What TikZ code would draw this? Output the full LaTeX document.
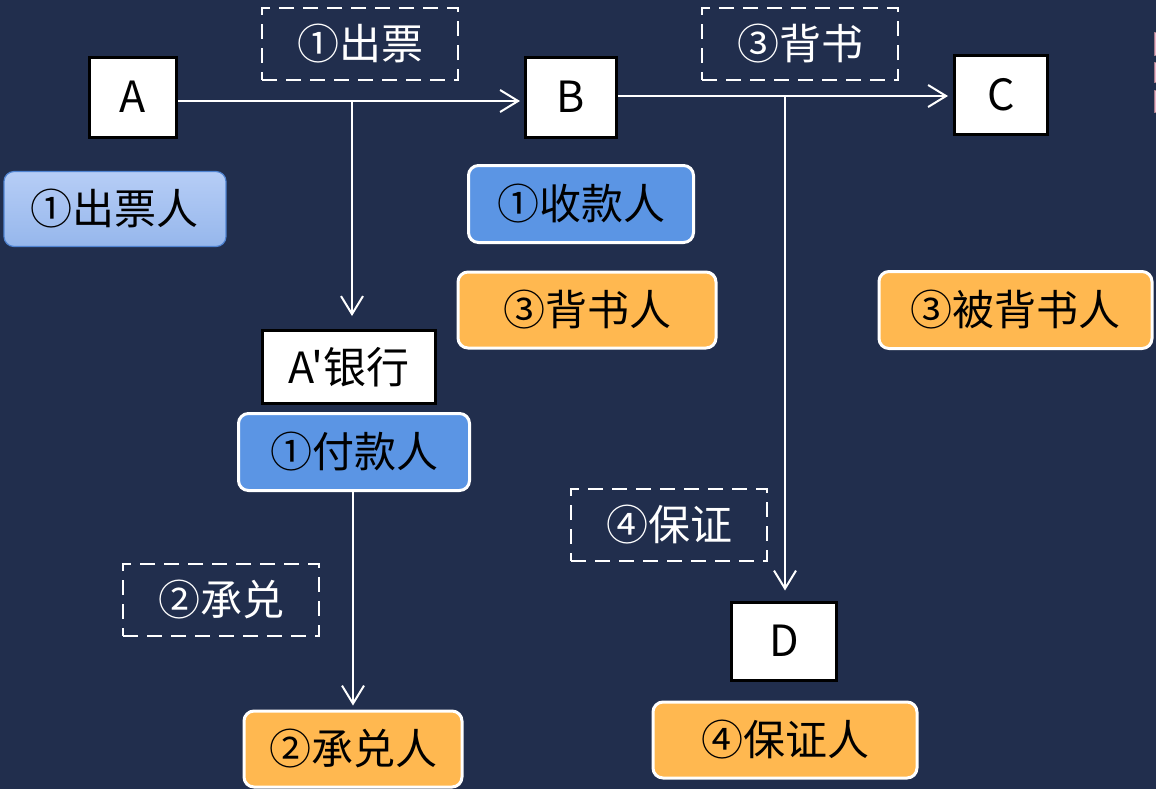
\documentclass[tikz,border=0pt]{standalone}
\usepackage{fontspec}
\newfontfamily\cjk{Noto Sans CJK SC}
\usetikzlibrary{arrows.meta}
\definecolor{navy}{RGB}{33,46,77}
\definecolor{roleblue}{RGB}{91,149,228}
\definecolor{paletop}{RGB}{182,205,246}
\definecolor{palebot}{RGB}{150,183,236}
\definecolor{paleedge}{RGB}{80,132,210}
\definecolor{roleorange}{RGB}{255,184,80}
\definecolor{edgepink}{RGB}{236,180,200}
\tikzset{party/.style={draw=black, fill=white, line width=1.5pt, inner sep=0pt,
		font=\cjk\fontsize{21.5}{24}\selectfont},
	act/.style={draw=white, line width=1pt, dash pattern=on 7.5pt off 4.5pt, inner sep=0pt,
		minimum width=98pt, minimum height=36pt, text=white, font=\cjk\fontsize{21}{24}\selectfont},
	role/.style={draw=white, line width=1.5pt, rounded corners=5pt, inner sep=0pt,
		minimum height=38.5pt, font=\cjk\fontsize{21}{24}\selectfont},
	flow/.style={draw=white, line width=1pt, -{Straight Barb[length=9pt,width=11pt]}}}

\begin{document}
\begin{tikzpicture}[x=0.5pt,y=-0.5pt]
				\fill[navy] (0,0) rectangle (1156,789);
				\useasboundingbox (0,0) rectangle (1156,789);
				% parties
				\node[party, minimum width=43.5pt, minimum height=40pt] (A) at (133,97) {A};
				\node[party, minimum width=45.5pt, minimum height=40pt] (B) at (571,97) {B};
				\node[party, minimum width=46.5pt, minimum height=39.5pt] (C) at (1001,95) {C};
				\node[party, minimum width=52.5pt, minimum height=39pt] (D) at (784,641) {D};
				\node[party, minimum width=86.5pt, minimum height=36.5pt] (Abank) at (349,367) {A'银行};
				% acts
				\node[act] (issue) at (360,44) {①出票};
				\node[act] (endorse) at (800,44) {③背书};
				\node[act] (accept) at (221,600) {②承兑};
				\node[act] (guarantee) at (669,525) {④保证};
				% roles
				\node[role, draw=paleedge, line width=0.6pt, top color=paletop, bottom color=palebot,
					minimum width=111pt, minimum height=37.5pt] (drawer) at (115,209) {①出票人};
				\node[role, fill=roleblue, minimum width=112.5pt] (payee) at (581,204) {①收款人};
				\node[role, fill=roleorange, minimum width=129pt, minimum height=38pt] (endorser) at (587,310) {③背书人};
				\node[role, fill=roleorange, minimum width=136.5pt] (endorsee) at (1015.5,310) {③被背书人};
				\node[role, fill=roleblue, minimum width=115.5pt] (payer) at (354,452) {①付款人};
				\node[role, fill=roleorange, minimum width=109pt, minimum height=38pt] (acceptor) at (353,749) {②承兑人};
				\node[role, fill=roleorange, minimum width=132pt, minimum height=38pt] (guarantor) at (785,740) {④保证人};
				% connectors
				\coordinate (ab) at (352,101);
				\coordinate (bc) at (785,96);
				\draw[flow, shorten >=2pt] ([yshift=-2pt]A.east) -- ([yshift=-2pt]B.west);
				\draw[flow, shorten >=6.5pt] (ab) -- (ab |- Abank.north);
				\draw[flow, shorten >=2.5pt] (B.east |- bc) -- (bc -| C.west);
				\draw[flow, shorten >=5pt] (bc) -- (bc |- D.north);
				\draw[flow, shorten >=2pt] (payer.south -| acceptor.north) -- (acceptor.north);
				% cut-off marks at the right edge
				\foreach \ya/\yb in {32/55, 62/82, 90/112}
					\filldraw[fill=edgepink, draw=edgepink!70!black, line width=0.3pt] (1154,\ya) rectangle (1157,\yb);
			\end{tikzpicture}
\end{document}
